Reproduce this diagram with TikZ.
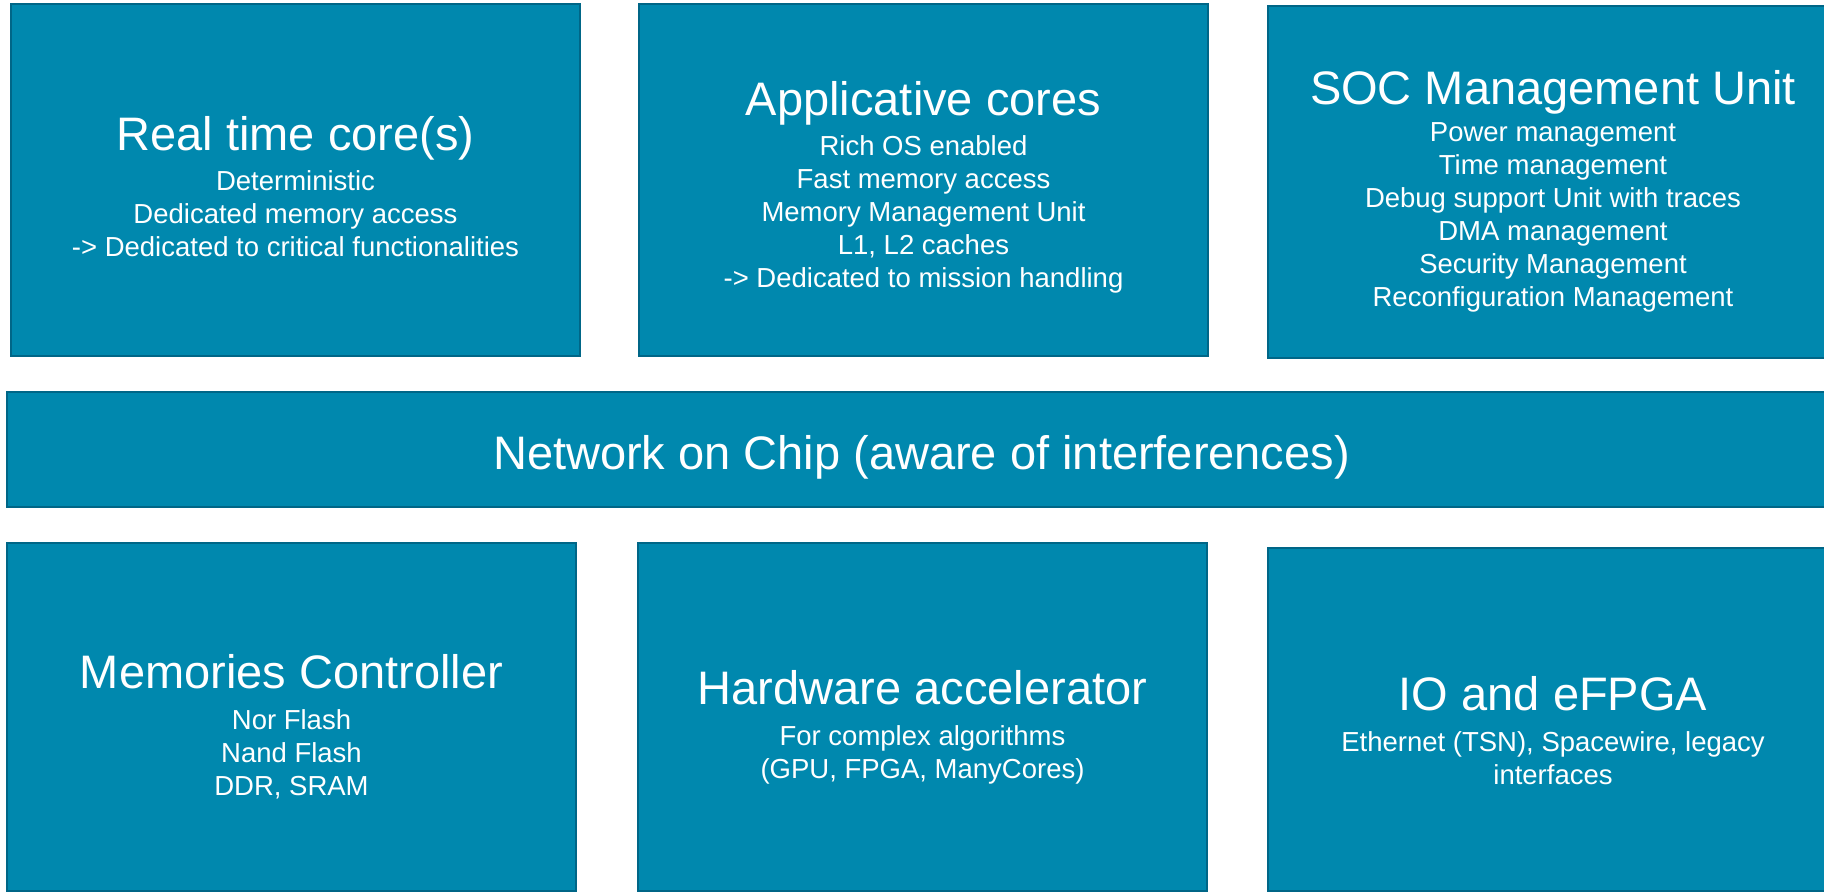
\documentclass[tikz,border=0pt]{standalone}
\usepackage{fontspec}
\setmainfont{Liberation Sans}
\definecolor{socfill}{RGB}{0,136,174}
\definecolor{socline}{RGB}{0,102,135}
\newcommand{\titlesize}{\fontsize{47}{54}\selectfont}
\newcommand{\bodysize}{\fontsize{27.5}{33}\selectfont}
\begin{document}
\begin{tikzpicture}[x=1pt,y=-1pt,
  blk/.style={rectangle,draw=socline,fill=socfill,line width=2.5pt,inner sep=0pt},
  txt/.style={text=white,font=\bodysize,align=center,inner sep=0pt,yshift=-7pt}]
\useasboundingbox (0,0) rectangle (1824,893);
\clip (0,0) rectangle (1824,893);
% top row
\node[blk,minimum width=569pt,minimum height=352pt] (rt) at (295.5,180) {};
\node[blk,minimum width=569pt,minimum height=352pt] (app) at (923.5,180) {};
\node[blk,minimum width=570pt,minimum height=352pt] (soc) at (1553,182) {};
% network
\node[blk,minimum width=1829pt,minimum height=115pt] (noc) at (921.5,449.5) {};
% bottom row
\node[blk,minimum width=569pt,minimum height=348pt] (mem) at (291.5,717) {};
\node[blk,minimum width=569pt,minimum height=348pt] (hw) at (922.5,717) {};
\node[blk,minimum width=570pt,minimum height=343pt] (io) at (1553,719.5) {};
% texts
\node[txt] (rttxt) at (rt) {{\titlesize Real time core(s)}\\[7pt]
  Deterministic\\Dedicated memory access\\-> Dedicated to critical functionalities};
\node[txt] (apptxt) at (app) {{\titlesize Applicative cores}\\[7pt]
  Rich OS enabled\\Fast memory access\\Memory Management Unit\\L1, L2 caches\\
  -> Dedicated to mission handling};
\node[txt,yshift=-2pt] (soctxt) at (soc) {{\titlesize SOC Management Unit}\\[4pt]
  Power management\\Time management\\Debug support Unit with traces\\
  DMA management\\Security Management\\Reconfiguration Management};
\node[txt,font=\titlesize,yshift=-1pt] (noctxt) at (noc) {Network on Chip (aware of interferences)};
\node[txt,yshift=-3pt] (memtxt) at (mem) {{\titlesize Memories Controller}\\[8pt]
  Nor Flash\\Nand Flash\\DDR, SRAM};
\node[txt,yshift=-3pt] (hwtxt) at (hw) {{\titlesize Hardware accelerator}\\[8pt]
  For complex algorithms\\(GPU, FPGA, ManyCores)};
\node[txt,yshift=-4pt] (iotxt) at (io) {{\titlesize IO and eFPGA}\\[8pt]
  Ethernet (TSN), Spacewire, legacy\\interfaces};
\end{tikzpicture}
\end{document}
